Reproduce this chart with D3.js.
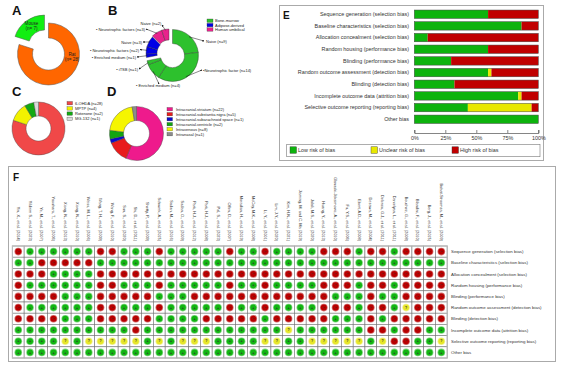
<!DOCTYPE html>
<html><head><meta charset="utf-8">
<script src="https://cdn.jsdelivr.net/npm/d3@7"></script>
<style>body{margin:0;background:#fff} svg{display:block;font-family:"Liberation Sans",Arial,sans-serif}</style>
</head><body><svg id="c" width="568" height="366"></svg>
<script>
// ---------------- DATA ----------------
const speciesLabels = ["Rat", "Mouse"];
const speciesCounts = [28, 7];

const bSources = ["Bone-marrow", "Adipose-derived", "Human umbilical"];
const bSubLabels = ["Naive (n=9)", "\u2022Neurotrophic factor (n=14)", "\u2022 Enriched medium (n=4)", "\u2022 iTSB (n=1)",
  "\u2022 Enriched medium (n=1)", "\u2022 Neurotrophic factors (n=2)", "Naive (n=3)",
  "\u2022 Neurotrophic factors (n=3)", "Naive (n=2)"];
const bSubSource = [0, 0, 0, 0, 1, 1, 1, 2, 2];
const bSubCounts = [9, 14, 4, 1, 1, 2, 3, 3, 2];

const modelLabels = ["6-OHDA (n=28)", "MPTP (n=4)", "Rotenone (n=2)", "MG-132 (n=1)"];
const modelCounts = [28, 4, 2, 1];

const routeLabels = ["Intracranial-striatum (n=22)", "Intracranial-substantia nigra (n=5)",
  "Intracranial-subarachnoid space (n=1)", "Intracranial-ventricle (n=2)", "Intravenous (n=8)", "Intranasal (n=1)"];
const routeCounts = [22, 5, 1, 2, 8, 1];

const biasDomains = ["Sequence generation (selection bias)", "Baseline characteristics (selection bias)",
  "Allocation concealment (selection bias)", "Random housing (performance bias)", "Blinding (performance bias)",
  "Random outcome assessment (detection bias)", "Blinding (detection bias)", "Incomplete outcome data (attrition bias)",
  "Selective outcome reporting (reporting bias)", "Other bias"];
const lowPct     = [59.5, 86.5, 10.8, 59.5, 29.7, 59.5, 32.4, 83.8, 43.2, 100];
const unclearPct = [0, 0, 0, 0, 0, 2.7, 0, 2.7, 51.4, 0];
const highPct    = [40.5, 13.5, 89.2, 40.5, 70.3, 37.8, 67.6, 13.5, 5.4, 0];
const axisTicks = [0, 25, 50, 75, 100];
const riskLabels = ["Low risk of bias", "Unclear risk of bias", "High risk of bias"];

const studies = ["Yin, X., et al. (2014)", "Yildirim S., et al. (2023)", "Ye, M., et al. (2007)",
  "Yasuhara, T., et al. (2006)", "Xiong, N., et al. (2013)", "Xiong, N., et al. (2010)",
  "Weiss, M. L., et al. (2006)", "Wang, T. H., et al. (2009)", "Wang, F., et al. (2010)",
  "Sun, S., et al. (2020)", "Shi, D., et al. (2011)", "Shetty, P., et al. (2009)",
  "Schwerk, A., et al. (2015)", "Sadan, M., et al. (2016)", "Sadan, O., et al. (2009)",
  "Park, H.J., et al. (2012)", "Park, H.J., et al. (2008)", "Pal, S., et al. (2023)",
  "Offen, D., et al. (2007)", "Moradian, H., et al. (2019)", "McCoy, M.K., et al. (2008)",
  "Li, Y., et al. (2001)", "Lim, J.Y., et al. (2020)", "Kim, H.N., et al. (2021)",
  "Jiaming, M. and C. Ma (2019)", "Jalali, M.S., et al. (2020)", "Huang, Y., et al. (2013)",
  "Glavaski-Joksimovic, A., et al. (2010)", "Fu, Y.S., et al. (2006)", "Ebert, A.D., et al. (2008)",
  "Dezawa, M., et al. (2004)", "Delcroix, G.J., et al. (2011)", "Danielyan, L., et al. (2011)",
  "Bouchez, G., et al. (2008)", "Blandini, F., et al. (2010)", "Berg, J., et al. (2015)",
  "Bahat-Stroomza, M., et al. (2009)"];
// one string per study, one letter per bias domain (G low, Y unclear, R high)
const judgements = ["RGRRRRRGGG", "GGRGRGRGGG", "GRRGRGRGGG", "GRGGRGRGGG", "GRGGGGGGYG", "GRGGGGGGGG",
  "GRGGGGGGYG", "RGRRRRRGYG", "RGRRRRRGYG", "GGRGRGRGYG", "GGRGRGRRYG", "GGRGRGRGGG",
  "RGRRGRGGYG", "GGRGGGGGGG", "GGRGGGGGYG", "GGRGRGGGYG", "GGRGRGRGYG", "GGRGRGRGGG",
  "RGRRRRRGGG", "GGRGRGRGGG", "GGRGRGRGGG", "RGRRRRGGYG", "GGRGRGRGYG", "GGRGRGRYGG",
  "GGRGRGRGGG", "GGRGRGRGYG", "RGRRRRRGYG", "RGRRGRGGYG", "RGRRGRGGYG", "GGRGGGGGYG",
  "RGRRRRRRGG", "RGRRGRGRYG", "GGRGGGRGRG", "RGRRRYRRRG", "RGRRRRRRGG", "RGRRRRRGGG",
  "RGRRRRRGYG"];

// ---------------- DRAW ----------------
const svg = d3.select("#c");
const txt = "#222";

function panelLetter(x, y, t, size) {
  svg.append("text").attr("x", x).attr("y", y).attr("font-size", size || 13).attr("font-weight", "bold")
    .attr("fill", "#111").text(t);
}

// ---- A ----
panelLetter(12, 15, "A");
{
  const pie = d3.pie().sort(null).value(d => d)(speciesCounts);
  const arc = d3.arc().innerRadius(16).outerRadius(31);
  const g = svg.append("g").attr("transform", "translate(48.5,54)");
  const cols = ["#FF6600", "#11EE11"];
  const offs = [[0, 0], [-4, -8]];
  g.selectAll("path").data(pie).join("path")
    .attr("transform", (d, i) => `translate(${offs[i][0]},${offs[i][1]})`)
    .attr("d", arc).attr("fill", (d, i) => cols[i]).attr("stroke", "#555").attr("stroke-width", 0.5);
  const lab = [[23.5, 2], [-17, -29]];
  pie.forEach((d, i) => {
    const t = g.append("text").attr("x", lab[i][0]).attr("y", lab[i][1]).attr("font-size", 4.6)
      .attr("text-anchor", "middle").attr("fill", txt);
    t.append("tspan").attr("x", lab[i][0]).attr("dy", 0).text(speciesLabels[i]);
    t.append("tspan").attr("x", lab[i][0]).attr("dy", 5).text(`(n= ${speciesCounts[i]})`);
  });
}

// ---- B ----
panelLetter(108, 15, "B");
{
  const srcCols = ["#2DC12D", "#0000E6", "#E8238C"];
  const pie = d3.pie().sort(null).value(d => d)(bSubCounts);
  const outerR = [26, 23, 23];
  const arcs = outerR.map(r => d3.arc().innerRadius(12).outerRadius(r));
  const cx = 171, cy = 54;
  const g = svg.append("g").attr("transform", `translate(${cx},${cy})`);
  const offs = [[1.5, 1.5], [-2, -1], [-2, -2]];
  g.selectAll("path").data(pie).join("path")
    .attr("transform", (d, i) => `translate(${offs[bSubSource[i]][0]},${offs[bSubSource[i]][1]})`)
    .attr("d", (d, i) => arcs[bSubSource[i]](d)).attr("fill", (d, i) => srcCols[bSubSource[i]])
    .attr("stroke", "#333").attr("stroke-width", 0.4);
  const labPos = [[206, 41.5, "start"], [203, 71, "start"], [136, 86, "start"], [138, 70, "end"],
    [136, 58, "end"], [139, 50.5, "end"], [142, 43, "end"], [145, 30, "end"], [151, 23.5, "middle"]];
  const tipPos = [[204, 41], [202, 70], [159, 84], [139, 69], [137, 57], [140, 49.5], [143, 42], [146, 29], [162, 25]];
  svg.append("defs").append("marker").attr("id", "ah").attr("viewBox", "0 0 6 6").attr("refX", 5).attr("refY", 3)
    .attr("markerWidth", 4).attr("markerHeight", 4).attr("orient", "auto")
    .append("path").attr("d", "M0,0L6,3L0,6Z").attr("fill", "#111");
  pie.forEach((d, i) => {
    const a = (d.startAngle + d.endAngle) / 2;
    const o = offs[bSubSource[i]];
    const r = outerR[bSubSource[i]] - 1;
    const sx = cx + o[0] + Math.sin(a) * r, sy = cy + o[1] - Math.cos(a) * r;
    svg.append("line").attr("x1", sx).attr("y1", sy).attr("x2", tipPos[i][0]).attr("y2", tipPos[i][1])
      .attr("stroke", "#111").attr("stroke-width", 0.5).attr("marker-end", "url(#ah)");
    svg.append("text").attr("x", labPos[i][0]).attr("y", labPos[i][1]).attr("font-size", 4)
      .attr("text-anchor", labPos[i][2]).attr("fill", txt).attr("dy", "0.35em").text(bSubLabels[i]);
  });
  const lg = svg.append("g").attr("transform", "translate(207,19)");
  bSources.forEach((s, i) => {
    lg.append("rect").attr("x", 0).attr("y", i * 4.4).attr("width", 6).attr("height", 3.4)
      .attr("fill", srcCols[i]).attr("stroke", "#333").attr("stroke-width", 0.3);
    lg.append("text").attr("x", 8).attr("y", i * 4.4 + 1.7).attr("dy", "0.35em").attr("font-size", 4).attr("fill", txt).text(s);
  });
}

// ---- C ----
panelLetter(12, 96, "C");
{
  const cols = ["#F04848", "#F2F200", "#13A813", "#DADADA"];
  const pie = d3.pie().sort(null).value(d => d)(modelCounts);
  const arc = d3.arc().innerRadius(12.5).outerRadius(26.5);
  const g = svg.append("g").attr("transform", "translate(38.5,128.5)");
  g.selectAll("path").data(pie).join("path").attr("d", arc).attr("fill", (d, i) => cols[i])
    .attr("stroke", "#444").attr("stroke-width", 0.4);
  const lg = svg.append("g").attr("transform", "translate(67,101.5)");
  modelLabels.forEach((s, i) => {
    lg.append("rect").attr("x", 0).attr("y", i * 5.2).attr("width", 5.5).attr("height", 3.4)
      .attr("fill", cols[i]).attr("stroke", "#333").attr("stroke-width", 0.3);
    lg.append("text").attr("x", 8).attr("y", i * 5.2 + 1.7).attr("dy", "0.35em").attr("font-size", 4).attr("fill", txt).text(s);
  });
}

// ---- D ----
panelLetter(107, 96, "D");
{
  const cols = ["#EE1A8C", "#E81C1C", "#0A0ACC", "#12A512", "#F5F500", "#8C8C8C"];
  const pie = d3.pie().sort(null).value(d => d)(routeCounts);
  const arc = d3.arc().innerRadius(13).outerRadius(27);
  const g = svg.append("g").attr("transform", "translate(136.5,133.5)");
  g.selectAll("path").data(pie).join("path").attr("d", arc).attr("fill", (d, i) => cols[i])
    .attr("stroke", "#444").attr("stroke-width", 0.4);
  const lg = svg.append("g").attr("transform", "translate(167,107.5)");
  routeLabels.forEach((s, i) => {
    lg.append("rect").attr("x", 0).attr("y", i * 5).attr("width", 5.5).attr("height", 3.4)
      .attr("fill", cols[i]).attr("stroke", "#333").attr("stroke-width", 0.3);
    lg.append("text").attr("x", 9).attr("y", i * 5 + 1.7).attr("dy", "0.35em").attr("font-size", 4).attr("fill", txt).text(s);
  });
}

// ---- E ----
const riskCols = { G: "#0DB30D", Y: "#E8E800", R: "#C00000" };
{
  svg.append("rect").attr("x", 279.5).attr("y", 5.5).attr("width", 264).attr("height", 155)
    .attr("fill", "#fff").attr("stroke", "#aaa").attr("stroke-width", 1);
  panelLetter(283, 19, "E", 10);
  const x = d3.scaleLinear().domain([0, 100]).range([414.3, 538.3]);
  const y = d3.scaleBand().domain(biasDomains).range([8.4, 125.1]).paddingInner(0.28).paddingOuter(0.14);
  const g = svg.append("g");
  biasDomains.forEach((b, i) => {
    const segs = [[0, lowPct[i], riskCols.G], [lowPct[i], lowPct[i] + unclearPct[i], riskCols.Y],
      [lowPct[i] + unclearPct[i], lowPct[i] + unclearPct[i] + highPct[i], riskCols.R]];
    segs.forEach(s => {
      if (s[1] - s[0] <= 0) return;
      g.append("rect").attr("x", x(s[0])).attr("y", y(b)).attr("width", x(s[1]) - x(s[0])).attr("height", y.bandwidth())
        .attr("fill", s[2]);
    });
    g.append("rect").attr("x", x(0)).attr("y", y(b)).attr("width", x(100) - x(0)).attr("height", y.bandwidth())
      .attr("fill", "none").attr("stroke", "#444").attr("stroke-width", 0.5);
    g.append("text").attr("x", 409).attr("y", y(b) + y.bandwidth() / 2).attr("dy", "0.35em")
      .attr("text-anchor", "end").attr("font-size", 5.4).attr("fill", "#333").text(b);
  });
  const ax = svg.append("g").attr("transform", "translate(0,133)")
    .call(d3.axisBottom(x).tickValues(axisTicks).tickFormat(d => d + "%").tickSizeInner(-3).tickSizeOuter(-3).tickPadding(3));
  ax.select(".domain").attr("stroke", "#333").attr("stroke-width", 0.6);
  ax.selectAll(".tick line").attr("stroke", "#333").attr("stroke-width", 0.6);
  ax.selectAll("text").attr("font-size", 5.4).attr("fill", "#333").attr("font-family", "Liberation Sans, Arial, sans-serif");
  svg.append("rect").attr("x", 286.7).attr("y", 144.3).attr("width", 253.3).attr("height", 12.4)
    .attr("fill", "none").attr("stroke", "#777").attr("stroke-width", 0.6);
  const lx = [290, 371, 452];
  ["G", "Y", "R"].forEach((k, i) => {
    svg.append("rect").attr("x", lx[i]).attr("y", 146.8).attr("width", 6.5).attr("height", 6.5)
      .attr("fill", riskCols[k]).attr("stroke", "#333").attr("stroke-width", 0.4);
    svg.append("text").attr("x", lx[i] + 8).attr("y", 150.1).attr("dy", "0.35em").attr("font-size", 5.4)
      .attr("fill", "#333").text(riskLabels[i]);
  });
}

// ---- F ----
{
  svg.append("rect").attr("x", 8.5).attr("y", 166.5).attr("width", 547).attr("height", 195)
    .attr("fill", "#fff").attr("stroke", "#aaa").attr("stroke-width", 1);
  panelLetter(13, 181, "F", 10);
  const x = d3.scaleBand().domain(studies).range([12.4, 447.2]);
  const y = d3.scaleBand().domain(biasDomains).range([246, 358]);
  const g = svg.append("g");
  const dotCols = { G: ["#7CD67C", "#12B512"], Y: ["#F2F290", "#E6E629"], R: ["#D46A6A", "#B80000"] };
  const sym = { G: "+", Y: "?", R: "\u2212" };
  studies.forEach((s, ci) => {
    biasDomains.forEach((b, ri) => {
      const k = judgements[ci][ri];
      const cx = x(s) + x.bandwidth() / 2, cy = y(b) + y.bandwidth() / 2;
      g.append("rect").attr("x", x(s)).attr("y", y(b)).attr("width", x.bandwidth()).attr("height", y.bandwidth())
        .attr("fill", "#fff").attr("stroke", "#777").attr("stroke-width", 0.6);
      g.append("circle").attr("cx", cx).attr("cy", cy).attr("r", 3.8).attr("fill", dotCols[k][0]);
      g.append("circle").attr("cx", cx).attr("cy", cy).attr("r", 3.0).attr("fill", dotCols[k][1]);
      g.append("text").attr("x", cx).attr("y", cy).attr("dy", "0.35em").attr("text-anchor", "middle")
        .attr("font-size", 3.6).attr("font-weight", "bold").attr("fill", "#333").text(sym[k]);
    });
    g.append("text").attr("transform", `translate(${x(s) + x.bandwidth() / 2},241) rotate(90)`)
      .attr("text-anchor", "end").attr("dy", "0.35em").attr("font-size", 3.9).attr("fill", "#333").text(s);
  });
  g.append("rect").attr("x", 12.4).attr("y", 246).attr("width", 447.2 - 12.4).attr("height", 112)
    .attr("fill", "none").attr("stroke", "#bbb").attr("stroke-width", 1.2);
  biasDomains.forEach(b => {
    g.append("text").attr("x", 451).attr("y", y(b) + y.bandwidth() / 2).attr("dy", "0.35em")
      .attr("font-size", 4.4).attr("fill", "#333").text(b);
  });
}
</script></body></html>
